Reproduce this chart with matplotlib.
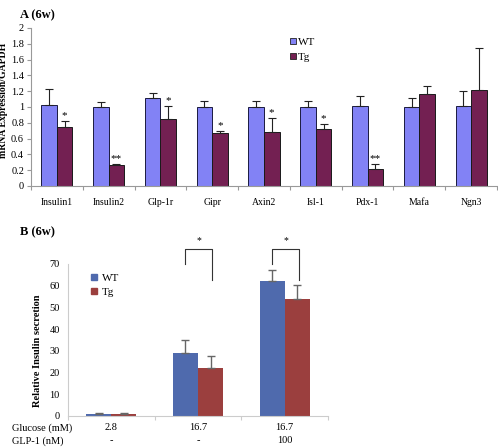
import numpy as np
import matplotlib.pyplot as plt
from matplotlib.lines import Line2D

# Panel A data: mRNA expression / GAPDH
genes = ['Insulin1', 'Insulin2', 'Glp-1r', 'Gipr', 'Axin2', 'Isl-1', 'Pdx-1', 'Mafa', 'Ngn3']
wt_expr = [1.02, 1.00, 1.12, 1.00, 1.00, 1.00, 1.01, 1.00, 1.01]
wt_err = [0.21, 0.06, 0.06, 0.08, 0.08, 0.08, 0.13, 0.11, 0.19]
tg_expr = [0.75, 0.26, 0.85, 0.665, 0.685, 0.72, 0.21, 1.17, 1.21]
tg_err = [0.07, 0.015, 0.16, 0.035, 0.18, 0.06, 0.07, 0.09, 0.54]
sig_a = ['*', '**', '*', '*', '*', '*', '**', '', '']

# Panel B data: relative insulin secretion
glucose = ['2.8', '16.7', '16.7']
glp1 = ['-', '-', '100']
wt_sec = [1.0, 28.8, 62.3]
wt_sec_err = [0.4, 6.0, 4.9]
tg_sec = [1.0, 21.8, 53.7]
tg_sec_err = [0.4, 5.7, 6.6]

plt.rcParams['font.family'] = ['Liberation Serif', 'DejaVu Serif']

fig = plt.figure(figsize=(4.98, 4.47), dpi=100)

# ---------------- Panel A ----------------
wt_a_col = '#8282f5'
tg_a_col = '#732052'
axA = fig.add_axes([0.0622, 0.5839, 0.9358, 0.3535])
x = np.arange(len(genes))
w = 0.3
axA.bar(x - w / 2, wt_expr, w, color=wt_a_col, edgecolor='#1a1a40', linewidth=0.7)
axA.bar(x + w / 2, tg_expr, w, color=tg_a_col, edgecolor='#1a1a1a', linewidth=0.7)
axA.errorbar(x - w / 2, wt_expr, yerr=[np.zeros(len(x)), wt_err], fmt='none',
             ecolor='#222222', elinewidth=0.8, capsize=3, capthick=0.8)
axA.errorbar(x + w / 2, tg_expr, yerr=[np.zeros(len(x)), tg_err], fmt='none',
             ecolor='#222222', elinewidth=0.8, capsize=3, capthick=0.8)
for i, s in enumerate(sig_a):
    if s:
        axA.text(x[i] + w / 2, tg_expr[i] + tg_err[i] + 0.01, s, ha='center',
                 va='bottom', fontsize=8)
axA.set_xlim(-0.5, len(genes) - 0.5)
axA.set_ylim(0, 2)
axA.set_yticks(np.arange(0, 2.01, 0.2))
axA.set_yticklabels(['0', '0.2', '0.4', '0.6', '0.8', '1', '1.2', '1.4', '1.6', '1.8', '2'])
axA.set_xticks(np.arange(-0.5, len(genes) - 0.4, 1))
axA.set_xticklabels([])
axA.set_xticks(x, minor=True)
axA.set_xticklabels(genes, minor=True)
axA.tick_params(axis='x', which='minor', length=0, pad=9, labelsize=7)
axA.tick_params(axis='x', which='major', length=3, color='#999999')
axA.tick_params(axis='y', length=3, color='#999999', labelsize=7.5, pad=2)
for side in ['top', 'right']:
    axA.spines[side].set_visible(False)
for side in ['left', 'bottom']:
    axA.spines[side].set_color('#999999')
    axA.spines[side].set_linewidth(0.8)
axA.set_ylabel('mRNA Expression/GAPDH', fontsize=7, fontweight='bold')
axA.yaxis.set_label_coords(-0.05, 0.54)
handlesA = [Line2D([], [], marker='s', linestyle='none', markersize=4.5,
                   markerfacecolor=wt_a_col, markeredgecolor='#222222', markeredgewidth=0.6),
            Line2D([], [], marker='s', linestyle='none', markersize=4.5,
                   markerfacecolor=tg_a_col, markeredgecolor='#222222', markeredgewidth=0.6)]
axA.legend(handlesA, ['WT', 'Tg'], loc='upper left', bbox_to_anchor=(0.545, 0.97),
           frameon=False, fontsize=8, handlelength=0.6, handletextpad=0.2,
           labelspacing=0.5, borderaxespad=0)
fig.text(0.04, 0.965, 'A (6w)', fontsize=9, fontweight='bold', va='center')

# ---------------- Panel B ----------------
wt_b_col = '#4f6aad'
tg_b_col = '#9b3f3e'
axB = fig.add_axes([0.1365, 0.07, 0.5221, 0.3394])
xb = np.arange(len(glucose))
wb = 0.29
axB.bar(xb - wb / 2, wt_sec, wb, color=wt_b_col)
axB.bar(xb + wb / 2, tg_sec, wb, color=tg_b_col)
axB.errorbar(xb - wb / 2, wt_sec, yerr=[np.zeros(3), wt_sec_err], fmt='none',
             ecolor='#666666', elinewidth=1.0, capsize=3, capthick=1.0)
axB.errorbar(xb + wb / 2, tg_sec, yerr=[np.zeros(3), tg_sec_err], fmt='none',
             ecolor='#666666', elinewidth=1.0, capsize=3, capthick=1.0)
# significance brackets
for i in [1, 2]:
    xl, xr = xb[i] - wb / 2, xb[i] + wb / 2 + 0.02
    axB.plot([xl, xl, xr, xr], [70, 77, 77, 62.5], color='#333333', lw=0.8,
             clip_on=False)
    axB.text((xl + xr) / 2, 78.5, '*', ha='center', va='bottom', fontsize=7)
axB.set_xlim(-0.5, 2.5)
axB.set_ylim(0, 70)
axB.set_yticks(np.arange(0, 71, 10))
axB.set_xticks([-0.5, 0.5, 1.5, 2.5])
axB.set_xticklabels([])
axB.tick_params(axis='x', length=3, color='#cccccc')
axB.tick_params(axis='y', length=0, labelsize=7.5, pad=6)
for side in ['top', 'right']:
    axB.spines[side].set_visible(False)
for side in ['left', 'bottom']:
    axB.spines[side].set_color('#cccccc')
    axB.spines[side].set_linewidth(0.8)
axB.set_ylabel('Relative Insulin secretion', fontsize=7.5, fontweight='bold')
axB.yaxis.set_label_coords(-0.1, 0.43)
handlesB = [Line2D([], [], marker='s', linestyle='none', markersize=4.5,
                   markerfacecolor=wt_b_col, markeredgecolor=wt_b_col),
            Line2D([], [], marker='s', linestyle='none', markersize=4.5,
                   markerfacecolor=tg_b_col, markeredgecolor=tg_b_col)]
axB.legend(handlesB, ['WT', 'Tg'], loc='upper left', bbox_to_anchor=(0.07, 0.97),
           frameon=False, fontsize=8, handlelength=0.6, handletextpad=0.4,
           labelspacing=0.4, borderaxespad=0)
# condition rows under the axis
for i in range(3):
    axB.text(xb[i], -5.5, glucose[i], ha='center', va='center', fontsize=7.5)
    axB.text(xb[i], -11.5, glp1[i], ha='center', va='center', fontsize=7.5)
fig.text(0.025, 1 - 428 / 447, 'Glucose (mM)', fontsize=7.5, va='center')
fig.text(0.025, 1 - 441 / 447, 'GLP-1 (nM)', fontsize=7.5, va='center')
fig.text(0.04, 1 - 232 / 447, 'B (6w)', fontsize=9, fontweight='bold', va='center')

fig.savefig('out.png', dpi=100)
